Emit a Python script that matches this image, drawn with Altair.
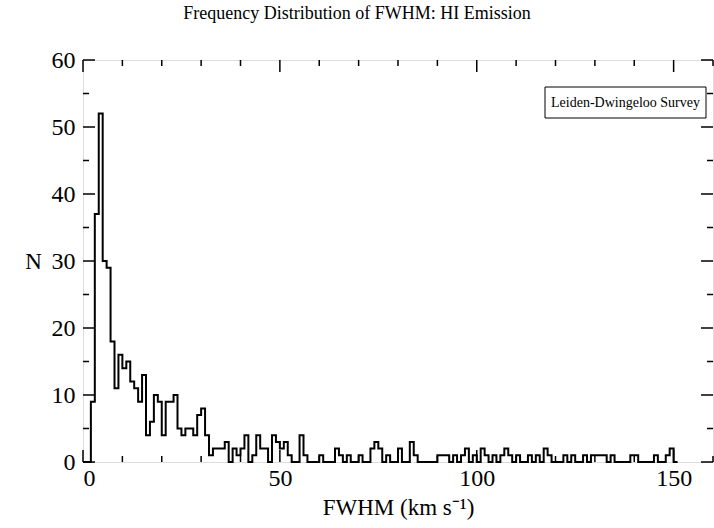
import altair as alt
import pandas as pd

# ---- data ----
bin_left = [2, 3, 4, 5, 6, 7, 8, 9, 10, 11, 12, 13, 14, 15, 16, 17, 18, 19, 20,
            21, 22, 23, 24, 25, 26, 27, 28, 29, 30, 31, 32, 33, 34, 35, 36, 38,
            39, 40, 41, 43, 44, 45, 46, 48, 49, 50, 51, 52, 55, 56, 60, 64, 65,
            67, 70, 73, 74, 75, 77, 80, 83, 84, 90, 91, 92, 94, 96, 97, 99, 101,
            102, 104, 106, 107, 108, 110, 113, 115, 117, 118, 122, 124, 127, 129,
            130, 131, 132, 134, 139, 140, 145, 148, 149]
counts = [9, 37, 52, 30, 29, 18, 11, 16, 14, 15, 12, 11, 9, 13, 4, 6, 10, 9, 4,
          9, 9, 10, 5, 4, 5, 5, 4, 7, 8, 4, 1, 2, 2, 2, 3, 2,
          1, 2, 4, 1, 4, 2, 2, 4, 3, 2, 3, 1, 4, 1, 1, 2, 1,
          1, 1, 2, 3, 2, 1, 2, 3, 1, 1, 1, 1, 1, 1, 2, 1, 2,
          1, 1, 1, 2, 1, 1, 1, 1, 2, 1, 1, 1, 1, 1,
          1, 1, 1, 1, 1, 1, 1, 1, 2]
x_tick_labels = [0, 50, 100, 150]
y_tick_labels = [0, 10, 20, 30, 40, 50, 60]
x_minor = list(range(0, 161, 10))
y_minor = list(range(0, 61, 5))

W, H = 630, 402
FONT = "Liberation Serif"

# full step series, 1 km/s bins, zero where empty
lookup = dict(zip(bin_left, counts))
edges = list(range(0, 152))
hist = pd.DataFrame({"x": edges, "n": [lookup.get(e, 0) for e in edges]})

xs = alt.Scale(domain=[0, 160], nice=False, zero=False)
ys = alt.Scale(domain=[0, 60], nice=False, zero=False)

line = alt.Chart(hist).mark_line(
    interpolate="step-after", color="black", strokeWidth=2
).encode(
    x=alt.X("x:Q", scale=xs, axis=alt.Axis(
        values=x_tick_labels, ticks=False, domain=False, grid=False,
        labelFont=FONT, labelFontSize=24, labelColor="black", labelPadding=4,
        title="FWHM (km s⁻¹)", titleFont=FONT, titleFontSize=23,
        titleFontWeight="normal", titleColor="black", titlePadding=6)),
    y=alt.Y("n:Q", scale=ys, axis=alt.Axis(
        values=y_tick_labels, ticks=False, domain=False, grid=False,
        labelFont=FONT, labelFontSize=24, labelColor="black", labelPadding=8,
        title="N", titleFont=FONT, titleFontSize=23, titleFontWeight="normal",
        titleColor="black", titleAngle=0, titleX=-50, titleY=H / 2,
        titleAlign="center", titleBaseline="middle")),
)

xt = pd.DataFrame({"v": x_minor})
xt["major"] = xt["v"] % 50 == 0
yt = pd.DataFrame({"v": y_minor})
yt["major"] = yt["v"] % 10 == 0

def xticks(df, y0, y1):
    return alt.Chart(df).mark_rule(color="black", strokeWidth=1.5).encode(
        x=alt.X("v:Q", scale=xs), y=alt.value(y0), y2=alt.value(y1))

def yticks(df, x0, x1):
    return alt.Chart(df).mark_rule(color="black", strokeWidth=1.5).encode(
        y=alt.Y("v:Q", scale=ys), x=alt.value(x0), x2=alt.value(x1))

xmaj = xt[xt.major]
xmin = xt[~xt.major]
ymaj = yt[yt.major]
ymin = yt[~yt.major]
ticks = [
    xticks(xmaj, H, H - 12), xticks(xmin, H, H - 6),
    xticks(xmaj, 0, 12), xticks(xmin, 0, 6),
    yticks(ymaj, 0, 12), yticks(ymin, 0, 6),
    yticks(ymaj, W, W - 12), yticks(ymin, W, W - 6),
]

legend_box = alt.Chart(pd.DataFrame({"a": [0]})).mark_rect(
    fill="white", stroke="black", strokeWidth=1).encode(
    x=alt.value(462), x2=alt.value(623), y=alt.value(27), y2=alt.value(58))
legend_text = alt.Chart(pd.DataFrame({"t": ["Leiden-Dwingeloo Survey"]})).mark_text(
    font=FONT, fontSize=14, color="black", align="center", baseline="middle").encode(
    x=alt.value(542.5), y=alt.value(43), text="t:N")

chart = alt.layer(line, *ticks, legend_box, legend_text).properties(
    width=W, height=H,
    title=alt.TitleParams("Frequency Distribution of FWHM: HI Emission",
                          font=FONT, fontSize=18, fontWeight="normal",
                          color="black", anchor="middle", dx=-41, offset=25),
    autosize=alt.AutoSizeParams(type="none"),
    padding={"left": 83, "top": 60, "right": 1, "bottom": 66},
).configure_view(stroke="black", strokeWidth=2).configure(background="white")

chart.save("out.html", embed_options={"renderer": "svg", "actions": False})
